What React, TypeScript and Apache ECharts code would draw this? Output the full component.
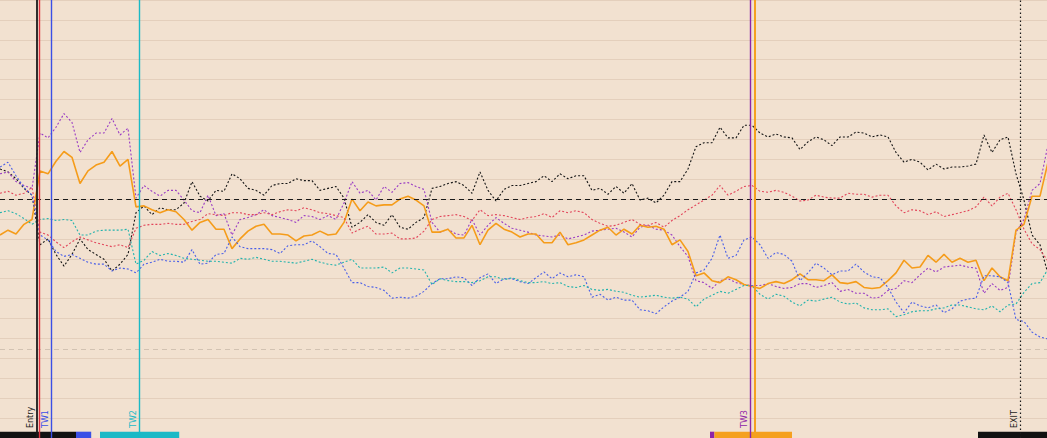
import React, { useEffect, useRef } from "react";
import * as echarts from "echarts";

// Series values (one sample per time step)
const blackSeries = [31, 28, 21, 11, 4, -47, -41, -57, -69, -57, -41, -52, -57, -62, -74, -67, -57, -14, -7, -16, -9, -11, -11, -4, 18, 3, -2, 9, 8, 26, 21, 11, 9, 4, 14, 16, 16, 21, 19, 19, 9, 11, 13, 1, -29, -24, -16, -24, -27, -16, -29, -31, -24, -19, 11, 13, 16, 18, 14, 6, 28, 9, -2, 10, 14, 14, 16, 18, 24, 18, 26, 21, 24, 24, 9, 11, 5, 13, 6, 16, -1, 1, -4, 4, 18, 18, 31, 54, 58, 58, 74, 63, 63, 76, 76, 68, 64, 67, 64, 63, 51, 59, 64, 61, 55, 64, 64, 69, 68, 64, 66, 64, 48, 38, 41, 38, 30, 36, 31, 33, 33, 34, 36, 66, 48, 61, 64, 26, -1, -37, -47, -77];
const purpleSeries = [26, 28, 18, 14, 11, 68, 63, 74, 88, 79, 48, 61, 68, 68, 83, 66, 73, 1, 14, 8, 3, 9, 9, -1, -12, -14, 4, -17, -15, -37, -21, -19, -16, -11, -17, -19, -21, -24, -17, -18, -21, -17, -21, -4, 18, 6, 9, -1, 13, 7, 16, 17, 13, 10, -24, -34, -31, -36, -37, -21, -37, -27, -19, -25, -30, -32, -34, -37, -38, -39, -37, -41, -39, -37, -33, -32, -31, -30, -34, -39, -29, -27, -31, -32, -37, -49, -59, -84, -86, -92, -84, -82, -86, -88, -89, -89, -87, -90, -92, -91, -87, -87, -91, -89, -86, -95, -93, -97, -97, -102, -101, -94, -92, -84, -86, -78, -71, -75, -70, -69, -68, -70, -71, -97, -87, -94, -91, -34, -21, 9, 16, 56];
const orangeSeries = [-37, -32, -36, -26, -21, 29, 26, 39, 49, 43, 16, 29, 35, 38, 49, 34, 41, -8, -7, -11, -14, -11, -13, -21, -32, -24, -21, -31, -31, -51, -41, -33, -28, -26, -36, -36, -37, -43, -38, -37, -33, -37, -36, -24, 0, -12, -3, -7, -6, -6, 0, 3, -1, -7, -34, -34, -31, -40, -40, -27, -47, -32, -25, -31, -34, -39, -36, -36, -45, -45, -34, -47, -45, -42, -37, -32, -29, -37, -31, -36, -27, -29, -28, -31, -47, -42, -54, -79, -76, -84, -86, -80, -83, -88, -90, -92, -87, -85, -87, -83, -77, -83, -83, -84, -78, -86, -87, -85, -91, -92, -91, -84, -76, -63, -71, -70, -58, -65, -57, -65, -61, -65, -63, -84, -71, -80, -84, -32, -26, 3, 3, 38];
const redSeries = [6, 8, 4, 6, 12, -34, -37, -44, -50, -44, -39, -42, -45, -47, -49, -47, -50, -30, -27, -26, -26, -25, -26, -26, -23, -21, -15, -16, -17, -14, -14, -16, -16, -14, -16, -13, -11, -12, -9, -11, -14, -15, -17, -19, -35, -31, -28, -36, -36, -35, -41, -41, -40, -33, -21, -18, -17, -16, -18, -22, -11, -17, -16, -17, -19, -21, -19, -18, -15, -19, -12, -14, -12, -14, -21, -25, -28, -27, -24, -21, -26, -27, -24, -29, -22, -17, -11, -6, -1, 4, 14, 4, 8, 13, 14, 8, 7, 9, 7, 3, -2, -1, 4, 2, 1, 1, 6, 5, 5, 2, 4, 4, -7, -14, -11, -12, -16, -13, -18, -16, -14, -12, -8, 2, -7, 2, 6, -11, -31, -46, -52, -64];
const blueSeries = [33, 38, 24, 12, 4, -37, -42, -54, -59, -57, -61, -65, -67, -67, -74, -71, -72, -76, -67, -65, -62, -64, -64, -65, -52, -67, -66, -57, -56, -39, -49, -51, -51, -51, -52, -56, -48, -47, -47, -43, -49, -56, -57, -71, -86, -86, -90, -91, -94, -102, -101, -102, -100, -95, -87, -82, -82, -80, -81, -89, -81, -77, -87, -82, -82, -85, -87, -81, -75, -82, -76, -80, -78, -80, -101, -98, -104, -101, -104, -104, -114, -115, -118, -111, -105, -101, -95, -76, -73, -61, -37, -61, -58, -42, -39, -47, -61, -55, -57, -64, -84, -76, -66, -71, -78, -74, -74, -67, -75, -80, -81, -91, -106, -117, -106, -110, -112, -109, -117, -113, -105, -103, -102, -79, -79, -80, -86, -124, -126, -137, -142, -144];
const cyanSeries = [-14, -12, -15, -20, -26, -21, -20, -22, -21, -22, -37, -37, -33, -32, -32, -32, -31, -67, -63, -54, -58, -56, -58, -61, -62, -63, -64, -64, -65, -66, -61, -62, -60, -62, -64, -64, -65, -66, -64, -62, -65, -67, -68, -65, -62, -71, -71, -71, -70, -76, -71, -71, -72, -73, -88, -82, -84, -85, -85, -86, -84, -80, -80, -83, -81, -84, -86, -86, -85, -87, -86, -90, -91, -89, -93, -94, -93, -95, -96, -99, -101, -100, -99, -101, -102, -101, -103, -111, -103, -99, -95, -97, -93, -89, -89, -98, -103, -98, -100, -106, -110, -104, -105, -103, -101, -106, -108, -107, -112, -114, -114, -113, -121, -119, -116, -115, -115, -113, -112, -109, -109, -111, -113, -114, -110, -116, -109, -108, -96, -87, -86, -72];

// Reference levels
const zeroLevel = 0;
const stopLevel = -155;

// Event markers (time-step position, label, colour)
const markerNames = ["Entry", "", "TW1", "TW2", "TW3", "", "EXIT"];
const markerSteps = [4.5625, 4.9375, 6.4375, 17.4375, 93.8125, 94.375, 127.5625];
const markerColors = ["#1a1a1a", "#e0323f", "#3b4fe6", "#1bb9c6", "#8e24a8", "#f5a01f", "#1a1a1a"];
const markerWidths = [1.8, 1.4, 1.4, 1.4, 1.4, 2, 1.2];

// Phase bands along the bottom (start step, end step, colour)
const bandStarts = [0, 9.5, 12.5, 88.75, 89.3, 122.25];
const bandEnds = [9.5, 11.4, 22.4, 89.3, 99, 130.875];
const bandColors = ["#111111", "#3b4fe6", "#1bb9c6", "#8e24a8", "#f5a01f", "#111111"];

const seriesNames = ["Black", "Purple", "Orange", "Red", "Blue", "Cyan"];
const seriesValues = [blackSeries, purpleSeries, orangeSeries, redSeries, blueSeries, cyanSeries];
const seriesColors = ["#151515", "#9a3cc4", "#f59c1a", "#e2455a", "#4a5fe8", "#22b3ad"];

export default function App() {
  const ref = useRef<HTMLDivElement>(null);

  useEffect(() => {
    document.body.style.margin = "0";
    if (!ref.current) return;
    const chart = echarts.init(ref.current, undefined, { renderer: "svg" });

    const lineSeries: any[] = seriesValues.map((vals, si) => ({
      name: seriesNames[si],
      type: "line",
      data: vals.map((v, i) => [i, v]),
      showSymbol: false,
      symbol: "none",
      z: 3,
      lineStyle: {
        color: seriesColors[si],
        width: si === 2 ? 1.6 : 1.1,
        type: si === 2 ? "solid" : [2, 2],
      },
      itemStyle: { color: seriesColors[si] },
    }));

    const markerData: any[] = markerSteps.map((x, k) => ({
      xAxis: x,
      lineStyle: {
        color: markerColors[k],
        opacity: 1,
        width: markerWidths[k],
        type: k === 6 ? [1.5, 2.5] : "solid",
      },
      label: {
        show: markerNames[k] !== "",
        formatter: markerNames[k],
        position: "insideStartTop",
        distance: [10, 2],
        color: markerColors[k],
        fontSize: 8,
        fontFamily: "DejaVu Sans",
      },
    }));

    const refLines: any[] = [
      {
        yAxis: zeroLevel,
        lineStyle: { color: "#1a1a1a", width: 1, type: [5, 4] },
        label: { show: false },
      },
      {
        yAxis: stopLevel,
        lineStyle: { color: "#d2c2b2", width: 1, type: [5, 4] },
        label: { show: false },
      },
    ];

    const bands: any[] = bandStarts.map((s, k) => [
      { xAxis: s, yAxis: -239.5, itemStyle: { color: bandColors[k], opacity: 1 } },
      { xAxis: bandEnds[k], yAxis: -246 },
    ]);

    lineSeries.push({
      name: "markers",
      type: "line",
      data: [],
      showSymbol: false,
      z: 4,
      markLine: {
        silent: true,
        symbol: ["none", "none"],
        animation: false,
        lineStyle: { opacity: 1 },
        data: [...refLines, ...markerData],
      },
      markArea: {
        silent: true,
        animation: false,
        itemStyle: { opacity: 1 },
        data: bands,
      },
    });

    chart.setOption({
      animation: false,
      backgroundColor: "#f2e1d0",
      grid: { left: 0, right: 0, top: -9, bottom: -4, containLabel: false },
      xAxis: {
        type: "value",
        min: 0,
        max: 130.875,
        show: false,
        splitLine: { show: false },
      },
      yAxis: {
        type: "value",
        min: -246,
        max: 205,
        interval: 20.5,
        axisLine: { show: false },
        axisTick: { show: false },
        axisLabel: { show: false },
        splitLine: { show: true, lineStyle: { color: "#e4cfbc", width: 1 } },
      },
      tooltip: { show: false },
      legend: { show: false },
      series: lineSeries,
    });

    return () => chart.dispose();
  }, []);

  return (
    <div style={{ position: "fixed", left: 0, top: 0, width: 1047, height: 438 }}>
      <div ref={ref} style={{ width: 1047, height: 438 }} />
    </div>
  );
}
